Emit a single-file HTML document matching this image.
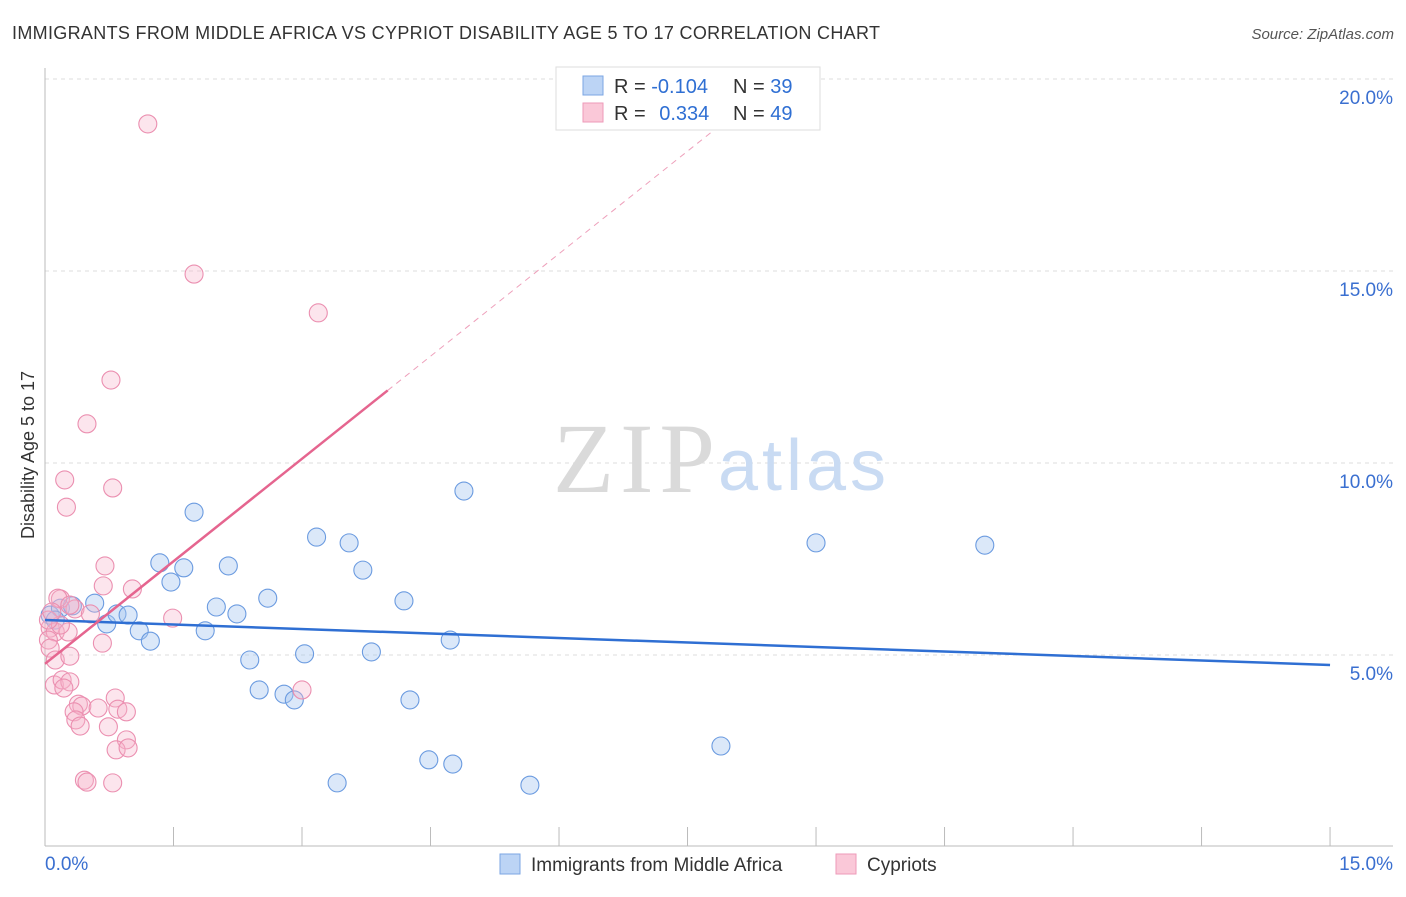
<!DOCTYPE html>
<html><head><meta charset="utf-8"><style>
body{margin:0;background:#fff;font-family:"Liberation Sans",sans-serif;}
</style></head><body>
<svg id="chart" width="1406" height="892" xmlns="http://www.w3.org/2000/svg" font-family="Liberation Sans, sans-serif">
<text x="12" y="39" font-size="18" fill="#333" textLength="868">IMMIGRANTS FROM MIDDLE AFRICA VS CYPRIOT DISABILITY AGE 5 TO 17 CORRELATION CHART</text>
<text x="1394" y="39" font-size="15" fill="#555" text-anchor="end" font-style="italic">Source: ZipAtlas.com</text>
<g id="grid"></g>
<g>
<text x="553" y="492" font-size="100" fill="#dadada" style="font-family:'Liberation Serif',serif" textLength="162">ZIP</text>
<text x="718" y="490" font-size="72" fill="#c9dbf3" textLength="168">atlas</text>
</g>
<text transform="translate(34,455) rotate(-90)" font-size="18" fill="#333" text-anchor="middle">Disability Age 5 to 17</text>
<g id="marks"></g>
<g>
<rect x="556" y="67" width="264" height="63" fill="#fff" stroke="#ddd"/>
<rect x="583" y="76" width="20" height="19" fill="#bcd4f5" stroke="#7ba6e3"/>
<rect x="583" y="103" width="20" height="19" fill="#fac8d8" stroke="#ee9ab8"/>
<text x="614" y="93" font-size="20" fill="#333">R = <tspan fill="#2f6fd3">-0.104</tspan></text>
<text x="733" y="93" font-size="20" fill="#333">N = <tspan fill="#2f6fd3">39</tspan></text>
<text x="614" y="120" font-size="20" fill="#333">R = <tspan fill="#2f6fd3" dx="8">0.334</tspan></text>
<text x="733" y="120" font-size="20" fill="#333">N = <tspan fill="#2f6fd3">49</tspan></text>
</g>
<g>
<rect x="500" y="854" width="20" height="20" fill="#bcd4f5" stroke="#7ba6e3"/>
<text x="531" y="871" font-size="19" fill="#333">Immigrants from Middle Africa</text>
<rect x="836" y="854" width="20" height="20" fill="#fac8d8" stroke="#ee9ab8"/>
<text x="867" y="871" font-size="19" fill="#333">Cypriots</text>
</g>
</svg>
<script>
const blueX=[0.06,0.18,0.32,0.58,0.72,0.84,0.97,1.10,1.23,1.34,1.47,1.62,1.74,1.87,2.00,2.14,2.24,2.39,2.50,2.60,2.79,2.91,3.03,3.17,3.55,3.71,3.81,4.19,4.26,4.48,4.73,4.76,4.89,5.66,3.41,7.89,9.00,10.97,0.12];
const blueY=[6.04,6.22,6.28,6.35,5.81,6.07,6.04,5.63,5.36,7.40,6.90,7.27,8.72,5.63,6.25,7.32,6.07,4.87,4.09,6.48,3.98,3.83,5.03,8.07,7.92,7.21,5.08,6.41,3.83,2.27,5.39,2.16,9.27,1.61,1.67,2.63,7.92,7.86,5.91];
const pinkX=[1.20,1.74,3.19,0.77,0.49,0.23,0.79,0.25,0.70,0.68,1.02,0.18,0.35,0.53,1.49,0.06,0.12,0.04,0.27,0.67,0.06,0.12,0.29,3.00,0.11,0.20,0.29,0.22,0.82,0.39,0.43,0.62,0.85,0.95,0.34,0.36,0.41,0.74,0.95,0.83,0.97,0.46,0.49,0.79,0.18,0.04,0.15,0.29,0.08];
const pinkY=[18.83,14.92,13.91,12.16,11.02,9.56,9.35,8.85,7.32,6.80,6.72,6.46,6.20,6.07,5.96,5.70,5.60,5.39,5.60,5.31,5.18,4.87,4.97,4.09,4.22,4.35,4.30,4.14,3.88,3.72,3.67,3.62,3.59,3.52,3.52,3.31,3.15,3.13,2.79,2.53,2.58,1.74,1.69,1.67,5.78,5.91,6.48,6.30,6.12];
const yTicks=[5,10,15,20];
const yTickLabels=["5.0%","10.0%","15.0%","20.0%"];
const xTickVals=[0,1.5,3,4.5,6,7.5,9,10.5,12,13.5,15];
const blueTrend=[5.91,4.74];
const pinkTrend=[4.77,1.78];
const NS="http://www.w3.org/2000/svg";
const sx=v=>45+v*85.67, sy=v=>847-v*38.4;
function mk(t,a,p){const e=document.createElementNS(NS,t);for(const k in a)e.setAttribute(k,a[k]);p.appendChild(e);return e;}
const grid=document.getElementById('grid'),marks=document.getElementById('marks');
yTicks.forEach((v,i)=>{
 const l=mk('line',{x1:45,x2:1393,y1:sy(v),y2:sy(v),stroke:'#ddd','stroke-dasharray':'4,4'},grid);
 
 
 const t=mk('text',{x:1393,y:sy(v)+25,'font-size':19,fill:'#3a6fd0','text-anchor':'end'},grid);
 t.textContent=yTickLabels[i];
 
 
});
const ax=mk('line',{x1:45,x2:45,y1:68,y2:846,stroke:'#bbb'},grid);


const bx=mk('line',{x1:45,x2:1393,y1:846,y2:846,stroke:'#bbb'},grid);


xTickVals.forEach(v=>{
 const l=mk('line',{x1:sx(v),x2:sx(v),y1:827,y2:846,stroke:'#bbb'},grid);
 
 
});
const x0=mk('text',{x:45,y:870,'font-size':19,fill:'#3a6fd0'},grid);x0.textContent='0.0%';


const x1=mk('text',{x:1393,y:870,'font-size':19,fill:'#3a6fd0','text-anchor':'end'},grid);x1.textContent='15.0%';


blueX.forEach((x,i)=>{
 const c=mk('circle',{cx:sx(x),cy:sy(blueY[i]),r:9,fill:'rgba(165,198,240,0.4)',stroke:'#6b9be0','stroke-width':1.1},marks);
 
 
});
pinkX.forEach((x,i)=>{
 const c=mk('circle',{cx:sx(x),cy:sy(pinkY[i]),r:9,fill:'rgba(247,180,204,0.35)',stroke:'#eb8fb0','stroke-width':1.1},marks);
 
 
});
const bl=mk('line',{x1:sx(0),y1:sy(blueTrend[0]),x2:sx(15),y2:sy(blueTrend[1]),stroke:'#2f6fd3','stroke-width':2.5},marks);


const pe=(19.2-pinkTrend[0])/pinkTrend[1];
const pd=mk('line',{x1:sx(4),y1:sy(pinkTrend[0]+pinkTrend[1]*4),x2:sx(pe),y2:sy(pinkTrend[0]+pinkTrend[1]*pe),stroke:'#eea0bb','stroke-width':1,'stroke-dasharray':'6,5'},marks);


const pl=mk('line',{x1:sx(0),y1:sy(pinkTrend[0]),x2:sx(4),y2:sy(pinkTrend[0]+pinkTrend[1]*4),stroke:'#e5658f','stroke-width':2.5},marks);


</script>
</body></html>
